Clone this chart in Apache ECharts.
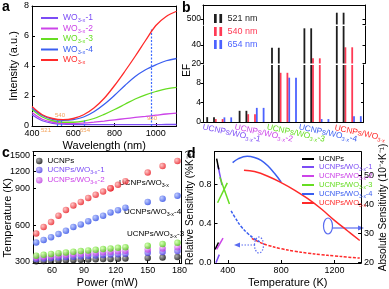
<!DOCTYPE html>
<html><head><meta charset="utf-8">
<script src="https://cdn.jsdelivr.net/npm/echarts@6/dist/echarts.min.js"></script>
<style>html,body{margin:0;padding:0;background:#fff}#c{width:389px;height:289px}</style>
</head><body><div id="c"></div>
<script>
const FONT = '"Liberation Sans", Arial, Helvetica, sans-serif';

// ---------- Panel a: absorption spectra ----------
const wavelengths = [400,450,500,550,600,650,700,750,800,850,900,950,1000,1050,1100];
const intWO1 = [0.75,0.35,0.18,0.12,0.10,0.09,0.09,0.09,0.09,0.09,0.09,0.09,0.09,0.10,0.10];
const intWO2 = [0.90,0.45,0.25,0.17,0.17,0.20,0.26,0.33,0.41,0.49,0.57,0.64,0.72,0.80,0.86];
const intWO3 = [1.10,0.60,0.35,0.25,0.25,0.32,0.50,0.78,1.10,1.45,1.80,2.08,2.30,2.48,2.58];
const intWO4 = [1.20,0.70,0.45,0.38,0.42,0.60,0.95,1.45,2.05,2.70,3.30,3.75,4.08,4.35,4.50];
const intWO  = [1.30,0.75,0.50,0.42,0.50,0.75,1.20,1.85,2.70,3.65,4.65,5.70,6.70,7.30,7.65];
const aNames = ['WO3-x-1','WO3-x-2','WO3-x-3','WO3-x-4','WO3-x'];
const markNm = [521, 540, 654, 980];
const markTop = [0.42, 0.42, 0.45, 6.45];
const markText = ['521','540','654','980'];

// ---------- Panel b: enhancement factors ----------
const efCategories = ['UCNPs/WO3-x-1','UCNPs/WO3-x-2','UCNPs/WO3-x-3','UCNPs/WO3-x-4','UCNPs/WO3-x'];
const ef521 = [1.0, 2.3, 37, 58, 935];
const ef540 = [0.6, 1.6, 10.1, 25.6, 37.5];
const ef654 = [0.95, 2.9, 9.1, 0.6, 1.2];
const efNames = ['521 nm','540 nm','654 nm'];
const efTicksLow = [0, 4, 8];
const efTicksMid = [20, 40];
const efTicksHigh = [120, 500];

// ---------- Panel c: temperature vs power ----------
const power = [45,52,59,66,73,80,87,94,101,108,115,122,129,150,164,178];
const tUCNP = [305,307,309,311,313,315,316,318,320,322,323,325,327,331,335,338];
const tWO1  = [322,326,330,334,338,342,345,349,352,356,359,362,366,374,380,388];
const tWO2  = [335,340,346,351,356,361,365,370,374,378,382,386,390,400,409,418];
const tWO3  = [350,357,364,370,376,382,388,393,398,404,409,414,419,430,445,455];
const tWO4  = [458,478,500,526,553,584,605,631,658,676,703,721,742,789,815,839];
const tWO   = [531,584,624,676,723,760,789,821,847,873,900,962,1029,1184,1300,1393];
const powerTicks = [60, 90, 120, 150, 180];
const tempTicksLow = [300, 600, 900];
const tempTicksHigh = [1200, 1500];
const cNames = ['UCNPs','UCNPs/WO3-x-1','UCNPs/WO3-x-2','UCNPs/WO3-x-3','UCNPs/WO3-x-4','UCNPs/WO3-x'];

// ---------- Panel d: sensitivities ----------
const dUCNP_K = [305, 330],            dUCNP_abs = [24.4, 26.8];
const dUCNPr_K = [316, 332],           dUCNP_rel = [1.06, 0.95];
const dWO1_K = [311, 336],             dWO1_abs = [19.8, 22.6];
const dWO1r_K = [326, 356],            dWO1_rel = [0.99, 0.79];
const dWO2_K = [316, 364],             dWO2_abs = [24.4, 28.3];
const dWO3_K = [323, 396],             dWO3_abs = [40.6, 47.5];
const dWO3r_K = [340, 412],            dWO3_rel = [0.87, 0.60];
const dWO4_K = [436, 480, 545, 600, 650, 700, 750, 800];
const dWO4_abs = [54.5, 55.9, 56.7, 56.3, 55.3, 53.4, 50.8, 47.8];
const dWO4r_K = [425, 450, 500, 550, 600, 640];
const dWO4_rel = [0.53, 0.47, 0.37, 0.30, 0.245, 0.215];
const dWO_K = [521, 600, 700, 800, 900, 1000, 1100, 1200, 1300, 1390];
const dWO_abs = [51.9, 51.4, 49.8, 47.6, 45.0, 42.0, 38.5, 34.5, 30.8, 27.5];
const dWOr_K = [580, 640, 700, 800, 900, 1000, 1100, 1200, 1300, 1390];
const dWO_rel = [0.25, 0.21, 0.18, 0.145, 0.12, 0.10, 0.085, 0.072, 0.060, 0.050];
const dTicksX = [400, 800, 1200];
const dTicksRel = [0, 0.4, 0.8];
const dTicksAbs = [20, 30, 40, 50];

// ---------- styling helpers ----------
const COL = {k0:'#000000', k1:'#7b4cf5', k2:'#cc44e8', k3:'#66dd22', k4:'#3a5ef0', k5:'#ff2a2a'};
function rich(size){
  const r = {};
  for (const k in COL){
    r[k] = {color:COL[k], fontSize:size, fontFamily:FONT, lineHeight:size+2.5, verticalAlign:'middle'};
    r[k+'s'] = {color:COL[k], fontSize:size*0.66, fontFamily:FONT, lineHeight:size*0.66, verticalAlign:'bottom'};
  }
  return r;
}
function woText(name, k){
  const i = name.indexOf('WO3-x');
  if (i < 0) return `{${k}|${name}}`;
  const pre = name.slice(0, i) + 'WO';
  const post = name.slice(i + 5);
  return `{${k}|${pre}}{${k}s|3-x}` + (post ? `{${k}|${post}}` : '');
}
const plain = v => String(v);
const LINE = {show:true, onZero:false, lineStyle:{color:'#000', width:1}};
const TICK = {show:true, inside:true, length:3, lineStyle:{color:'#000', width:1}};
const LBL = {color:'#000', fontSize:9, fontFamily:FONT, margin:3, formatter:plain};
function frame(extra){
  return Object.assign({axisLine:LINE, axisTick:{show:false}, axisLabel:{show:false}, splitLine:{show:false}}, extra);
}

const grids = [], xAxes = [], yAxes = [], series = [];
const addG = g => (grids.push(g), grids.length - 1);
const addX = a => (xAxes.push(a), xAxes.length - 1);
const addY = a => (yAxes.push(a), yAxes.length - 1);

// ===== Panel a =====
const gA = addG({left:32, top:6, width:144.5, height:120});
const xA = addX({type:'value', gridIndex:gA, min:400, max:1100, position:'bottom',
  axisLine:LINE, axisTick:Object.assign({}, TICK, {customValues:[400,600,800,1000]}), splitLine:{show:false},
  axisLabel:Object.assign({}, LBL, {customValues:[400,600,800,1000]}),
  name:'Wavelength (nm)', nameLocation:'middle', nameGap:14, nameTextStyle:{fontSize:11, fontFamily:FONT, color:'#000'}});
addX(frame({type:'value', gridIndex:gA, min:400, max:1100, position:'top'}));
const yA = addY({type:'value', gridIndex:gA, min:0, max:8, interval:2, position:'left',
  axisLine:LINE, axisTick:TICK, splitLine:{show:false}, axisLabel:LBL,
  name:'Intensity (a.u.)', nameLocation:'middle', nameGap:13, nameTextStyle:{fontSize:11, fontFamily:FONT, color:'#000'}});
addY(frame({type:'value', gridIndex:gA, min:0, max:8, position:'right'}));
const aData = [intWO1, intWO2, intWO3, intWO4, intWO];
const aKeys = ['k1','k2','k3','k4','k5'];
series.push({type:'line', name:'_marks', xAxisIndex:xA, yAxisIndex:yA, data:[], z:1,
  markLine:{silent:true, symbol:'none', animation:false, label:{show:false},
    lineStyle:{type:[2, 1.5], color:'#3f6bff', width:1.2, opacity:1},
    data: markNm.map((x, i) => [{coord:[x, 0]}, {coord:[x, markTop[i]]}])}});
aData.forEach((arr, i) => series.push({
  type:'line', name:aNames[i], xAxisIndex:xA, yAxisIndex:yA, smooth:0.35, symbol:'none', showSymbol:false,
  data: wavelengths.map((w, j) => [w, arr[j]]), lineStyle:{color:COL[aKeys[i]], width:1.3},
  itemStyle:{color:COL[aKeys[i]]}, z:2 + i, animation:false
}));

// ===== Panel b (broken axis: three stacked segments) =====
// each segment: a frame grid (axes) plus two hidden grids offset sideways holding the paired bars
const bSegDefs = [
  {top:65,  height:57,   min:0,   max:11.7, ticks:efTicksLow,  bottomAxis:true},
  {top:26,  height:37.5, min:20,  max:60.5, ticks:efTicksMid},
  {top:5,   height:19.5, min:120, max:1467, ticks:efTicksHigh, topAxis:true}
];
const B_LEFT = 203, B_WIDTH = 162, B_SHIFT = 3.4;
const catLabelKeys = ['k1','k2','k3','k4','k5'];
const efSets = [ef521, ef540, ef654];
const efColors = ['#1e1e1e', '#ff3a55', '#4c62ff'];
bSegDefs.forEach(s => {
  const g = addG({left:B_LEFT, top:s.top, width:B_WIDTH, height:s.height});
  addX({type:'category', gridIndex:g, data:efCategories, position: s.topAxis ? 'top' : 'bottom',
    boundaryGap:true,
    axisLine: (s.bottomAxis || s.topAxis) ? LINE : {show:false},
    axisTick:{show:false},
    axisLabel: s.bottomAxis ? {show:true, interval:0, rotate:-12, align:'center', verticalAlign:'top', margin:3,
      padding:[0,0,0,28],
      formatter:(v, idx) => woText(v, catLabelKeys[idx]), rich:rich(8.3)} : {show:false},
    splitLine:{show:false}});
  addY({type:'value', gridIndex:g, min:s.min, max:s.max, position:'left',
    axisLine:LINE, axisTick:{show:true, inside:false, length:2.5, customValues:s.ticks, lineStyle:{color:'#000'}},
    axisLabel:Object.assign({}, LBL, {fontSize:8.5, margin:2, customValues:s.ticks}), splitLine:{show:false}});
  addY(frame({type:'value', gridIndex:g, min:s.min, max:s.max, position:'right',
    axisTick:{show:true, inside:true, length:2.5, customValues:s.ticks, lineStyle:{color:'#000'}}}));
  [-B_SHIFT, B_SHIFT].forEach(off => {
    const gh = addG({left:B_LEFT + off, top:s.top, width:B_WIDTH, height:s.height});
    const xh = addX({type:'category', gridIndex:gh, data:efCategories, show:false, boundaryGap:true});
    const yh = addY({type:'value', gridIndex:gh, min:s.min, max:s.max, show:false});
    [0, 1, 2].forEach(k => series.push({type:'bar', name:efNames[k], xAxisIndex:xh, yAxisIndex:yh,
      data:efSets[k], barWidth:1.8, barGap:'378%', itemStyle:{color:efColors[k]}, clip:true, silent:true, animation:false}));
  });
});

// ===== Panel c (two stacked linear segments) =====
const cSegDefs = [
  {top:188.3, height:77.4, min:290, max:900,  ticks:tempTicksLow,  bottomAxis:true},
  {top:151.7, height:36.6, min:900, max:1560, ticks:tempTicksHigh, topAxis:true}
];
const cKeys = ['k0','k1','k2','k3','k4','k5'];
const cSets = [tUCNP, tWO1, tWO2, tWO3, tWO4, tWO];
const cGrad = [['#9a9a9a','#000000'],['#b8b0ff','#4636e0'],['#f4b8ff','#b636dc'],['#d0ffa8','#4ccc0c'],['#b0c0ff','#2846e4'],['#ffb8b8','#e8141c']];
cSegDefs.forEach(s => {
  const g = addG({left:33, top:s.top, width:148.7, height:s.height});
  const xa = addX(s.bottomAxis
    ? {type:'value', gridIndex:g, min:42, max:182, position:'bottom', axisLine:LINE,
       axisTick:Object.assign({}, TICK, {customValues:powerTicks}),
       axisLabel:Object.assign({}, LBL, {customValues:powerTicks}), splitLine:{show:false},
       name:'Power (mW)', nameLocation:'middle', nameGap:14, nameTextStyle:{fontSize:11, fontFamily:FONT, color:'#000'}}
    : frame({type:'value', gridIndex:g, min:42, max:182, position:'top'}));
  const ya = addY({type:'value', gridIndex:g, min:s.min, max:s.max, position:'left', axisLine:LINE,
    axisTick:Object.assign({}, TICK, {customValues:s.ticks}),
    axisLabel:Object.assign({}, LBL, {customValues:s.ticks}), splitLine:{show:false}});
  addY(frame({type:'value', gridIndex:g, min:s.min, max:s.max, position:'right'}));
  cSets.forEach((arr, i) => series.push({
    type:'scatter', name:cNames[i], xAxisIndex:xa, yAxisIndex:ya, symbol:'circle', symbolSize:6.5, clip:true,
    data: power.map((p, j) => [p, arr[j]]),
    itemStyle:{color:new echarts.graphic.RadialGradient(0.35, 0.35, 0.7, [{offset:0, color:cGrad[i][0]}, {offset:1, color:cGrad[i][1]}])},
    silent:true, animation:false
  }));
});

// ===== Panel d =====
const gD = addG({left:214.5, top:151.7, width:150, height:116});
const xD = addX({type:'value', gridIndex:gD, min:300, max:1400, position:'bottom', axisLine:LINE,
  axisTick:Object.assign({}, TICK, {customValues:dTicksX}),
  axisLabel:Object.assign({}, LBL, {customValues:dTicksX}), splitLine:{show:false},
  name:'Temperature (K)', nameLocation:'middle', nameGap:14, nameTextStyle:{fontSize:11, fontFamily:FONT, color:'#000'}});
addX(frame({type:'value', gridIndex:gD, min:300, max:1400, position:'top'}));
const yDL = addY({type:'value', gridIndex:gD, min:0, max:1.13, position:'left', axisLine:LINE,
  axisTick:Object.assign({}, TICK, {customValues:dTicksRel}),
  axisLabel:Object.assign({}, LBL, {customValues:dTicksRel, formatter:v => v.toFixed(1)}), splitLine:{show:false},
  name:'Relative Sensitivity (%K\u207B\u00B9)', nameLocation:'middle', nameGap:16, nameTextStyle:{fontSize:10, fontFamily:FONT, color:'#000'}});
const yDR = addY({type:'value', gridIndex:gD, min:19.7, max:58.3, position:'right', axisLine:LINE,
  axisTick:Object.assign({}, TICK, {customValues:dTicksAbs}),
  axisLabel:Object.assign({}, LBL, {customValues:dTicksAbs}), splitLine:{show:false},
  name:'Absolute Sensitivity (10\u207B\u2074K\u207B\u00B9)', nameLocation:'middle', nameGap:13, nameTextStyle:{fontSize:10, fontFamily:FONT, color:'#000'}});
function dLine(name, K, vals, yi, color, dashed){
  series.push({type:'line', name, xAxisIndex:xD, yAxisIndex:yi, data:K.map((k, j) => [k, vals[j]]),
    smooth:K.length > 2 ? 0.4 : false, symbol:'none', showSymbol:false, clip:true,
    lineStyle:{color, width:1.5, type: dashed ? [3, 1.5] : 'solid'}, itemStyle:{color}, silent:true, animation:false});
}
dLine('dWO1', dWO1_K, dWO1_abs, yDR, COL.k1, false);
dLine('dWO1r', dWO1r_K, dWO1_rel, yDL, COL.k1, false);
dLine('dUCNPs', dUCNP_K, dUCNP_abs, yDR, COL.k0, false);
dLine('dUCNPsr', dUCNPr_K, dUCNP_rel, yDL, COL.k0, false);
dLine('dWO2', dWO2_K, dWO2_abs, yDR, COL.k2, false);
dLine('dWO3', dWO3_K, dWO3_abs, yDR, COL.k3, false);
dLine('dWO3r', dWO3r_K, dWO3_rel, yDL, COL.k3, false);
dLine('dWOr', dWOr_K, dWO_rel, yDL, COL.k5, true);
dLine('dWO4r', dWO4r_K, dWO4_rel, yDL, COL.k4, true);
dLine('dWO4', dWO4_K, dWO4_abs, yDR, COL.k4, false);
dLine('dWO', dWO_K, dWO_abs, yDR, COL.k5, false);

// ===== Legends =====
const aLegendNames = {};
aNames.forEach((n, i) => aLegendNames[n] = woText(n, aKeys[i]));
const dNameMap = {dUCNPs:['UCNPs','k0'], dWO1:['UCNPs/WO3-x-1','k1'], dWO2:['UCNPs/WO3-x-2','k2'],
  dWO3:['UCNPs/WO3-x-3','k3'], dWO4:['UCNPs/WO3-x-4','k4'], dWO:['UCNPs/WO3-x','k5']};
const legends = [
  {left:36, top:8.5, orient:'vertical', itemGap:0.5, itemWidth:17, itemHeight:2, icon:'rect',
   data:aNames, formatter:n => aLegendNames[n], textStyle:{rich:rich(8.5)}},
  {left:209, top:9, orient:'vertical', itemGap:4, itemWidth:9, itemHeight:9,
   icon:'path://M0,0H3V10H0ZM6,0H9V10H6Z',
   data:efNames.map((n, i) => ({name:n, textStyle:{color:efColors[i]}})),
   textStyle:{fontSize:9, fontFamily:FONT}},
  {left:31, top:152, orient:'vertical', itemGap:1, itemWidth:6.5, itemHeight:6.5, icon:'circle',
   data:cNames.slice(0, 3), formatter:n => woText(n, cKeys[cNames.indexOf(n)]), textStyle:{rich:rich(8)}},
  {left:297, top:150, orient:'vertical', itemGap:0, itemWidth:12, itemHeight:2, icon:'rect',
   data:Object.keys(dNameMap), formatter:n => woText(dNameMap[n][0], dNameMap[n][1]), textStyle:{rich:rich(7.5)}}
];

// ===== Text annotations and decorations =====
const letter = (t, x, y) => ({type:'text', left:x, top:y, style:{text:t, font:'bold 14px ' + FONT, fill:'#000'}});
const graphic = [
  letter('a', 2, 0), letter('b', 182, 1), letter('c', 2, 146), letter('d', 187, 147),
  {type:'text', left:182, top:64, rotation:Math.PI / 2, style:{text:'EF', font:'10px ' + FONT, fill:'#000'}},
  {type:'text', left:2, top:178, rotation:Math.PI / 2, style:{text:'Temperature (K)', font:'11px ' + FONT, fill:'#000'}},
  {type:'text', left:119, top:179, style:{rich:rich(8), text:woText('UCNPs/WO3-x', 'k5')}},
  {type:'text', left:124, top:208, style:{rich:rich(8), text:woText('UCNPs/WO3-x-4', 'k4')}},
  {type:'text', left:127, top:230, style:{rich:rich(8), text:woText('UCNPs/WO3-x-3', 'k3')}},
  {type:'text', left:41, top:127, style:{text:markText[0], font:'6px ' + FONT, fill:'#f3a35c'}},
  {type:'text', left:55, top:112, style:{text:markText[1], font:'6px ' + FONT, fill:'#f3a35c'}},
  {type:'text', left:80, top:127, style:{text:markText[2], font:'6px ' + FONT, fill:'#f3a35c'}},
  {type:'text', left:147, top:115, style:{text:markText[3], font:'6px ' + FONT, fill:'#f3a35c'}},
  // panel d: loop + arrow annotations
  {type:'ellipse', shape:{cx:328, cy:226, rx:4.5, ry:8}, style:{stroke:'#5a6cf0', fill:'none', lineWidth:1.2}},
  {type:'line', shape:{x1:332, y1:228, x2:361, y2:228}, style:{stroke:'#5a6cf0', lineWidth:1.2}},
  {type:'polygon', shape:{points:[[364,228],[358,225.5],[358,230.5]]}, style:{fill:'#5a6cf0'}},
  {type:'ellipse', shape:{cx:259, cy:245, rx:4.5, ry:8}, style:{stroke:'#5a6cf0', fill:'none', lineWidth:1.2, lineDash:[1.5,1.5]}},
  {type:'line', shape:{x1:255, y1:245, x2:238, y2:245}, style:{stroke:'#5a6cf0', lineWidth:1.2, lineDash:[1.5,1.5]}},
  {type:'polygon', shape:{points:[[234,245],[240,242.5],[240,247.5]]}, style:{fill:'#5a6cf0'}}
];

const chart = echarts.init(document.getElementById('c'), null, {renderer:'canvas', width:389, height:289});
chart.setOption({
  animation:false,
  backgroundColor:'#fff',
  textStyle:{fontFamily:FONT},
  grid:grids, xAxis:xAxes, yAxis:yAxes, series, legend:legends, graphic
});
</script></body></html>
